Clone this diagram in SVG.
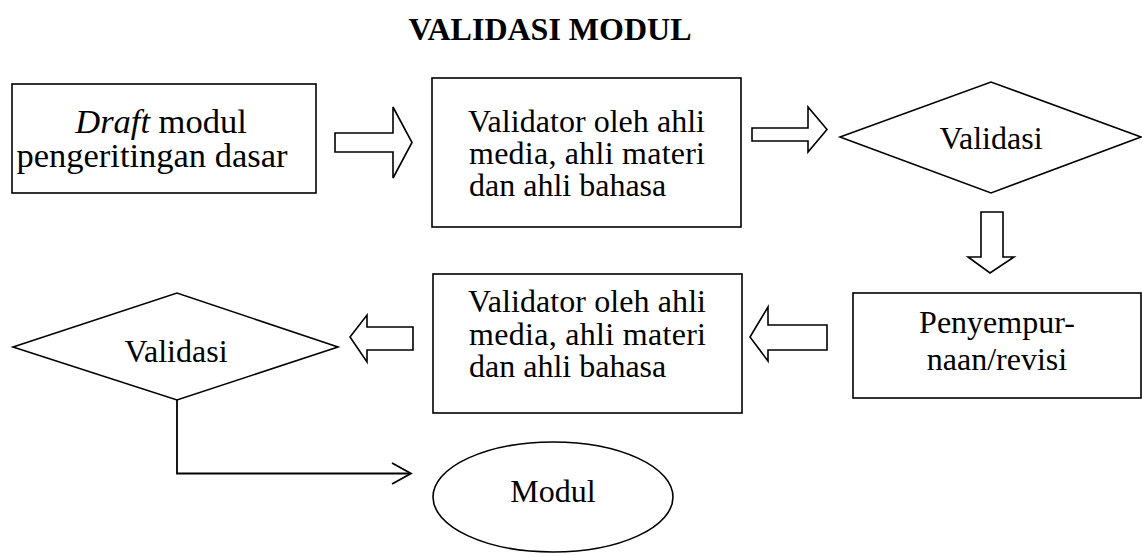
<svg xmlns="http://www.w3.org/2000/svg" width="1142" height="556" viewBox="0 0 1142 556">
<style>
.s{fill:#fff;stroke:#000;stroke-width:1.6}
.c{fill:none;stroke:#000;stroke-width:1.8}
.t{font-family:"Liberation Serif","Times New Roman",serif;font-size:32px;fill:#000}
.m{text-anchor:middle}
.title{font-family:"Liberation Serif","Times New Roman",serif;font-size:32px;font-weight:bold;text-anchor:middle;fill:#000}
</style>
<rect width="1142" height="556" fill="#fff"/>
<text class="title" x="550" y="40">VALIDASI MODUL</text>

<g id="draft">
<rect class="s" x="12" y="84" width="304" height="109"/>
<text class="t m" x="161" y="133" style="font-size:34.5px"><tspan font-style="italic">Draft</tspan> modul</text>
<text class="t m" x="152" y="167" style="font-size:34.5px">pengeritingan dasar</text>
</g>

<g id="validator1">
<rect class="s" x="432" y="78" width="309" height="149"/>
<text class="t" x="468" y="132" textLength="237" lengthAdjust="spacing">Validator oleh ahli</text>
<text class="t" x="469" y="164" textLength="236" lengthAdjust="spacing">media, ahli materi</text>
<text class="t" x="469" y="196">dan ahli bahasa</text>
</g>

<g id="validasi1">
<polygon class="s" points="840,137 991,82 1141,137 991,193"/>
<text class="t m" x="991" y="149">Validasi</text>
</g>

<g id="revisi">
<rect class="s" x="853" y="293" width="288" height="105"/>
<text class="t m" x="997" y="333">Penyempur-</text>
<text class="t m" x="997" y="370">naan/revisi</text>
</g>

<g id="validator2">
<rect class="s" x="433" y="274" width="309" height="139"/>
<text class="t" x="468" y="312" textLength="238" lengthAdjust="spacing">Validator oleh ahli</text>
<text class="t" x="469" y="345" textLength="237" lengthAdjust="spacing">media, ahli materi</text>
<text class="t" x="469" y="377">dan ahli bahasa</text>
</g>

<g id="validasi2">
<polygon class="s" points="13,347 177,293 338,347 177,400"/>
<text class="t m" x="176" y="362">Validasi</text>
</g>

<g id="modul">
<ellipse class="s" cx="553" cy="497" rx="120" ry="55"/>
<text class="t m" x="553" y="502">Modul</text>
</g>

<g id="connectors">
<polygon class="s" points="335,133 393,133 393,107 412,142.5 393,178 393,152 335,152"/>
<polygon class="s" points="752,128 808,128 808,107 827,129.5 808,152 808,141 752,141"/>
<polygon class="s" points="981,212 1003,212 1003,257 1014,257 990,273 968,257 981,257"/>
<polygon class="s" points="827,325 768,325 768,307 750,337 768,361 768,350 827,350"/>
<polygon class="s" points="413,327 367,327 367,315 350,337 367,362 367,350 413,350"/>
<polyline class="c" points="177,400 177,473.5 410,473.5"/>
<polyline class="c" points="392,463 411,473.5 392,484"/>
</g>
</svg>
